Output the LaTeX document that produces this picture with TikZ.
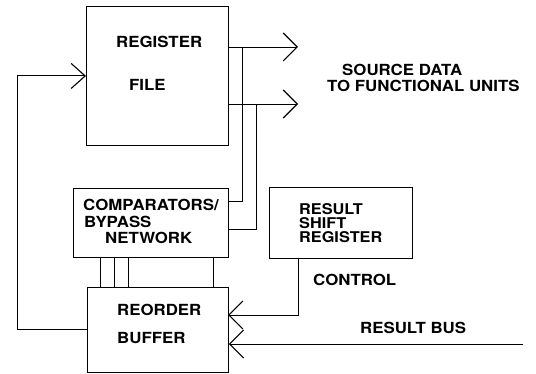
\documentclass[tikz,border=0pt]{standalone}
\usepackage{fontspec}
\setmainfont{TeX Gyre Heros}[FakeStretch=1.1]
\usetikzlibrary{arrows.meta}
\begin{document}
\begin{tikzpicture}[x=1pt,y=-1pt,
  wire/.style={line width=0.9pt,black},
  blockbox/.style={draw,line width=0.9pt,rectangle,inner sep=0pt,anchor=north west},
  lbl/.style={anchor=base west,inner sep=0pt,text height=11pt,text depth=0pt,
    font=\fontsize{15.3}{16}\selectfont\bfseries},
  stack/.style={anchor=base west,inner sep=0pt,align=left,
    font=\fontsize{14.8}{14}\selectfont\bfseries},
  bigtip/.style={-{Straight Barb[length=14pt,width=28pt,line width=1.1pt]}},
]
\useasboundingbox (0,0) rectangle (536,374);

% blocks
\node[blockbox,minimum width=142pt,minimum height=139pt] (regfile) at (86,6) {};
\node[blockbox,minimum width=155pt,minimum height=69pt] (cmp) at (73,188) {};
\node[blockbox,minimum width=141pt,minimum height=85pt] (rob) at (87,287) {};
\node[blockbox,minimum width=143pt,minimum height=71pt] (rsr) at (269,187) {};

% block labels
\node[lbl] (tRF1) at (116,47.5) {REGISTER};
\node[lbl] (tRF2) at (129,90.5) {FILE};
\node[lbl] (tC1) at (83,210.5) {COMPARATORS/};
\node[lbl] (tC2) at (84,227.5) {BYPASS};
\node[lbl] (tC3) at (105,243.5) {NETWORK};
% base anchor of a stacked node sits on its last line
\node[stack] (tS) at (299,242.5) {RESULT\\SHIFT\\REGISTER};
\node[lbl] (tR1) at (117,315.5) {REORDER};
\node[lbl] (tR2) at (117,343.5) {BUFFER};

% free labels
\node[lbl] (tSD1) at (342,75.5) {SOURCE DATA};
\node[lbl] (tSD2) at (327,91.5) {TO FUNCTIONAL UNITS};
\node[lbl] (tCtl) at (313,285.5) {CONTROL};
\node[lbl] (tBus) at (360,333.5) {RESULT BUS};

% connector end points
\coordinate (out1) at (298,47);
\coordinate (out2) at (298,104);
\coordinate (tap1) at (242,47);
\coordinate (tap2) at (256,104);
\coordinate (ctl) at (298,258);
\coordinate (ctlin) at (228,315);
\coordinate (busend) at (523,344);

% source operands to functional units
\draw[wire,bigtip] (regfile.east |- out1) -- (out1);
\draw[wire,bigtip] (regfile.east |- out2) -- (out2);

% operand taps into the comparators
\draw[wire] (tap1) |- (cmp.east |- 0,201);
\draw[wire] (tap2) |- (cmp.east |- 0,229);

% comparator to reorder buffer links
\foreach \xx in {100,114,128,213}
  \draw[wire] (cmp.south -| \xx,0) -- (rob.north -| \xx,0);

% write-back path from reorder buffer to register file
\draw[wire,-{Straight Barb[length=14pt,width=25pt,line width=1.1pt]}]
  (rob.west) -- ++(-70,0) |- (regfile.west);

% control from the result shift register
\draw[wire,bigtip] (ctl) |- (ctlin);

% result bus
\draw[wire,bigtip] (busend) -- (rob.east |- busend);
\end{tikzpicture}
\end{document}
